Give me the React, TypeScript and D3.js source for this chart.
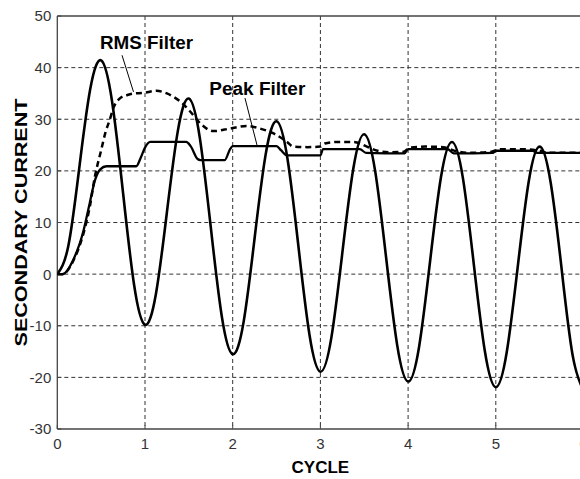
import React from "react";
import * as d3 from "d3";

// ---- data ----
const signalCycle = [
  0, 0.125, 0.25, 0.375, 0.5, 0.625, 0.75, 0.875, 1, 1.125, 1.25, 1.375, 1.5, 1.625, 1.75, 1.875,
  2, 2.125, 2.25, 2.375, 2.5, 2.625, 2.75, 2.875, 3, 3.125, 3.25, 3.375, 3.5, 3.625, 3.75, 3.875,
  4, 4.125, 4.25, 4.375, 4.5, 4.625, 4.75, 4.875, 5, 5.125, 5.25, 5.375, 5.5, 5.625, 5.75, 5.875, 6,
];
const signalCurrent = [
  0, 5.4, 20.5, 35.8, 41.4, 33.4, 15.7, -2.0, -9.8, -3.8, 12.0, 27.8, 34.0, 26.4, 9.1, -8.1,
  -15.5, -9.2, 7.0, 23.1, 29.6, 22.3, 5.3, -11.7, -18.9, -12.3, 4.1, 20.4, 27.1, 19.9, 3.1, -13.7,
  -20.8, -14.1, 2.4, 18.8, 25.6, 18.6, 1.8, -14.9, -21.9, -15.1, 1.4, 17.9, 24.7, 17.8, 1.1, -15.6,
  -22.6,
];

const rmsCycle = [
  0, 0.06, 0.18, 0.3, 0.37, 0.43, 0.5, 0.55, 0.6, 0.64, 0.71, 0.8, 0.87, 0.98, 1.13, 1.25, 1.32,
  1.42, 1.51, 1.63, 1.78, 1.97, 2.16, 2.31, 2.46, 2.62, 2.69, 2.85, 3.0, 3.05, 3.2, 3.38, 3.53,
  3.65, 3.8, 3.95, 4.02, 4.2, 4.4, 4.55, 4.7, 4.95, 5.05, 5.3, 5.5, 5.6, 6.0,
];
const rmsCurrent = [
  0, 0, 2.5, 8.0, 13.0, 19.0, 24.0, 27.5, 30.0, 32.2, 34.0, 34.7, 35.0, 35.1, 35.5, 35.0, 34.4,
  33.2, 31.6, 29.2, 27.7, 28.2, 28.7, 28.2, 27.3, 25.6, 24.7, 24.6, 24.7, 25.3, 25.6, 25.6, 24.7,
  23.9, 23.6, 23.7, 24.5, 24.7, 24.6, 23.8, 23.5, 23.7, 24.2, 24.2, 23.9, 23.5, 23.5,
];

const peakCycle = [
  0, 0.06, 0.18, 0.3, 0.37, 0.43, 0.49, 0.56, 0.9, 0.95, 1.0, 1.06, 1.47, 1.52, 1.6, 1.63, 1.91,
  1.97, 2.0, 2.5, 2.55, 2.62, 3.0, 3.03, 3.45, 3.52, 3.96, 4.0, 4.45, 4.52, 4.97, 5.0, 5.42, 5.47,
  6.0,
];
const peakCurrent = [
  0, 0, 2.7, 8.5, 13.8, 18.2, 20.3, 20.9, 20.9, 22.5, 24.5, 25.6, 25.6, 24.8, 22.3, 22.1, 22.1,
  24.2, 24.8, 24.8, 24.0, 23.0, 23.0, 24.2, 24.2, 23.5, 23.4, 24.2, 24.2, 23.4, 23.5, 23.9, 23.9,
  23.5, 23.5,
];

const xTicks = [0, 1, 2, 3, 4, 5, 6];
const yTicks = [-30, -20, -10, 0, 10, 20, 30, 40, 50];

const xTitle = "CYCLE";
const yTitle = "SECONDARY CURRENT";
const rmsLabel = "RMS Filter";
const peakLabel = "Peak Filter";

// ---- layout ----
const W = 580;
const H = 479;
const left = 57.3;
const right = 583.5;
const top = 16;
const bottom = 429;

export default function App() {
  const x = d3.scaleLinear().domain([0, 6]).range([left, right]);
  const y = d3.scaleLinear().domain([-30, 50]).range([bottom, top]);

  const zip = (xs: number[], ys: number[]) => xs.map((v, i) => [v, ys[i]] as [number, number]);

  const smooth = d3
    .line<[number, number]>()
    .x((d) => x(d[0]))
    .y((d) => y(d[1]))
    .curve(d3.curveNatural);
  const mono = d3
    .line<[number, number]>()
    .x((d) => x(d[0]))
    .y((d) => y(d[1]))
    .curve(d3.curveMonotoneX);

  const font = "'Liberation Sans', Arial, Helvetica, sans-serif";

  return (
    <svg
      width={W}
      height={H}
      style={{ position: "absolute", left: 0, top: 0, background: "#fff" }}
    >
      <rect x={0} y={0} width={W} height={H} fill="#fff" />
      <defs>
        <clipPath id="plot">
          <rect x={left} y={top} width={right - left} height={bottom - top} />
        </clipPath>
      </defs>

      {/* grid */}
      {xTicks
        .filter((t) => t > 0 && t < 6)
        .map((t) => (
          <line
            key={"gx" + t}
            x1={x(t)}
            x2={x(t)}
            y1={top}
            y2={bottom}
            stroke="#333"
            strokeWidth={1}
            strokeDasharray="4,3"
          />
        ))}
      {yTicks
        .filter((t) => t > -30 && t < 50)
        .map((t) => (
          <line
            key={"gy" + t}
            x1={left}
            x2={right}
            y1={y(t)}
            y2={y(t)}
            stroke="#333"
            strokeWidth={1}
            strokeDasharray="4,3"
          />
        ))}

      {/* frame */}
      <line x1={left} x2={right} y1={top} y2={top} stroke="#444" strokeWidth={1.3} />
      <line x1={left} x2={right} y1={bottom} y2={bottom} stroke="#444" strokeWidth={1.3} />
      <line x1={left} x2={left} y1={top} y2={bottom} stroke="#444" strokeWidth={1.3} />
      {yTicks.map((t) => (
        <line key={"ty" + t} x1={left} x2={left + 4} y1={y(t)} y2={y(t)} stroke="#444" />
      ))}
      {xTicks.map((t) => (
        <line key={"tx" + t} x1={x(t)} x2={x(t)} y1={bottom} y2={bottom - 4} stroke="#444" />
      ))}

      {/* curves */}
      <g clipPath="url(#plot)" fill="none" stroke="#000" strokeLinejoin="round">
        <path d={smooth(zip(signalCycle, signalCurrent)) || ""} strokeWidth={2.6} />
        <path d={mono(zip(peakCycle, peakCurrent)) || ""} strokeWidth={2.3} />
        <path
          d={mono(zip(rmsCycle, rmsCurrent)) || ""}
          strokeWidth={2.5}
          strokeDasharray="6,4"
        />
      </g>

      {/* tick labels */}
      {yTicks.map((t) => (
        <text
          key={"ly" + t}
          x={left - 6}
          y={y(t)}
          dy="0.36em"
          textAnchor="end"
          fontFamily={font}
          fontSize={15}
          fill="#333"
        >
          {t}
        </text>
      ))}
      {xTicks.map((t) => (
        <text
          key={"lx" + t}
          x={x(t)}
          y={bottom + 20}
          textAnchor="middle"
          fontFamily={font}
          fontSize={15}
          fill="#333"
        >
          {t}
        </text>
      ))}

      {/* axis titles */}
      <text
        x={(left + right) / 2}
        y={473}
        textAnchor="middle"
        fontFamily={font}
        fontWeight="bold"
        fontSize={17}
        fill="#000"
      >
        {xTitle}
      </text>
      <text
        transform={`translate(26.5,${(top + bottom) / 2}) rotate(-90)`}
        textAnchor="middle"
        fontFamily={font}
        fontWeight="bold"
        fontSize={16}
        textLength={248}
        lengthAdjust="spacingAndGlyphs"
        fill="#000"
      >
        {yTitle}
      </text>

      {/* annotations */}
      <text
        x={x(0.487)}
        y={y(43.7)}
        fontFamily={font}
        fontWeight="bold"
        fontSize={18}
        textLength={93}
        lengthAdjust="spacingAndGlyphs"
        fill="#000"
      >
        {rmsLabel}
      </text>
      <line x1={x(0.738)} y1={y(42.4)} x2={x(0.869)} y2={y(35.3)} stroke="#000" strokeWidth={1} />
      <text
        x={x(1.733)}
        y={y(34.7)}
        fontFamily={font}
        fontWeight="bold"
        fontSize={18}
        textLength={96}
        lengthAdjust="spacingAndGlyphs"
        fill="#000"
      >
        {peakLabel}
      </text>
      <line x1={x(2.14)} y1={y(34.1)} x2={x(2.277)} y2={y(25.0)} stroke="#000" strokeWidth={1} />
    </svg>
  );
}
